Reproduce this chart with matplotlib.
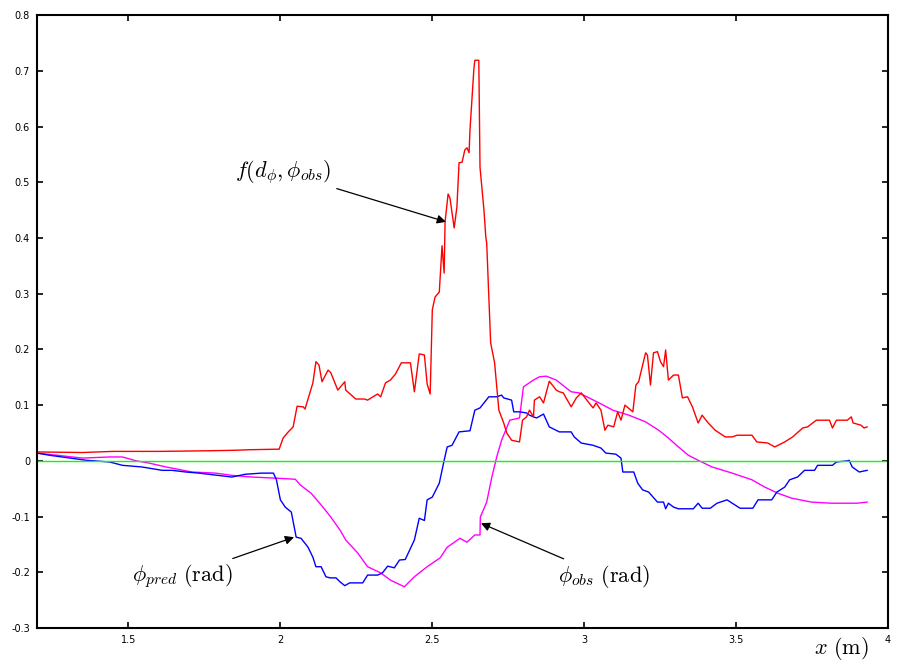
import numpy as np
import matplotlib.pyplot as plt

plt.rcParams['mathtext.fontset'] = 'cm'
plt.rcParams['axes.unicode_minus'] = False

# f(d_phi, phi_obs)
x_f = [1.200, 1.35, 1.45, 1.6, 1.75, 1.85, 1.90, 1.997, 2.010, 2.027, 2.043, 2.056, 2.076, 2.082,
       2.108, 2.118, 2.128, 2.138, 2.158, 2.167, 2.190, 2.213, 2.216, 2.249, 2.278, 2.288, 2.321,
       2.331, 2.347, 2.363, 2.380, 2.399, 2.429, 2.442, 2.458, 2.475, 2.484, 2.494, 2.501, 2.510,
       2.524, 2.533, 2.540, 2.543, 2.553, 2.559, 2.573, 2.582, 2.589, 2.599, 2.608, 2.615, 2.622,
       2.625, 2.638, 2.641, 2.654, 2.658, 2.671, 2.677, 2.680, 2.687, 2.693, 2.706, 2.720, 2.736,
       2.746, 2.762, 2.788, 2.798, 2.811, 2.821, 2.834, 2.837, 2.854, 2.867, 2.886, 2.909, 2.919,
       2.932, 2.958, 2.975, 2.991, 3.007, 3.030, 3.040, 3.056, 3.069, 3.079, 3.098, 3.111, 3.122,
       3.135, 3.161, 3.171, 3.180, 3.203, 3.209, 3.219, 3.229, 3.242, 3.252, 3.262, 3.269, 3.278,
       3.295, 3.311, 3.324, 3.341, 3.357, 3.376, 3.389, 3.409, 3.432, 3.465, 3.488, 3.504, 3.530,
       3.553, 3.569, 3.605, 3.628, 3.661, 3.687, 3.720, 3.736, 3.765, 3.808, 3.818, 3.831, 3.867,
       3.880, 3.886, 3.912, 3.922, 3.932]
y_f = [0.016, 0.015, 0.017, 0.017, 0.018, 0.019, 0.020, 0.021, 0.041, 0.052, 0.061, 0.098, 0.097, 0.093,
       0.140, 0.178, 0.172, 0.142, 0.163, 0.158, 0.127, 0.142, 0.127, 0.111, 0.111, 0.109, 0.120,
       0.115, 0.140, 0.145, 0.156, 0.176, 0.176, 0.124, 0.192, 0.190, 0.138, 0.120, 0.271, 0.294,
       0.303, 0.386, 0.337, 0.429, 0.479, 0.472, 0.418, 0.456, 0.535, 0.536, 0.558, 0.562, 0.553,
       0.594, 0.705, 0.719, 0.719, 0.527, 0.450, 0.402, 0.391, 0.294, 0.212, 0.176, 0.091, 0.068,
       0.050, 0.037, 0.034, 0.073, 0.079, 0.091, 0.079, 0.109, 0.115, 0.104, 0.143, 0.127, 0.124,
       0.122, 0.097, 0.113, 0.122, 0.111, 0.095, 0.104, 0.091, 0.055, 0.064, 0.061, 0.088, 0.073,
       0.100, 0.088, 0.136, 0.142, 0.194, 0.190, 0.136, 0.194, 0.196, 0.178, 0.169, 0.199, 0.145,
       0.154, 0.154, 0.113, 0.115, 0.097, 0.068, 0.082, 0.068, 0.055, 0.043, 0.043, 0.046, 0.046,
       0.046, 0.034, 0.032, 0.025, 0.034, 0.043, 0.059, 0.061, 0.073, 0.073, 0.059, 0.073, 0.073,
       0.079, 0.068, 0.064, 0.059, 0.061]

# phi_pred
x_pred = [1.200, 1.242, 1.363, 1.439, 1.481, 1.546, 1.612, 1.644, 1.690, 1.733, 1.841, 1.886, 1.939,
          1.978, 1.988, 2.001, 2.017, 2.037, 2.053, 2.069, 2.092, 2.108, 2.118, 2.135, 2.151, 2.164,
          2.184, 2.197, 2.213, 2.229, 2.272, 2.288, 2.321, 2.337, 2.354, 2.376, 2.393, 2.412, 2.442,
          2.458, 2.475, 2.484, 2.501, 2.524, 2.540, 2.550, 2.566, 2.589, 2.625, 2.641, 2.658, 2.687,
          2.713, 2.729, 2.736, 2.762, 2.769, 2.788, 2.811, 2.821, 2.834, 2.844, 2.867, 2.886, 2.919,
          2.958, 2.968, 2.991, 3.030, 3.056, 3.072, 3.105, 3.122, 3.128, 3.164, 3.177, 3.193, 3.213,
          3.242, 3.262, 3.269, 3.278, 3.295, 3.311, 3.360, 3.376, 3.389, 3.416, 3.438, 3.471, 3.488,
          3.514, 3.556, 3.573, 3.618, 3.635, 3.661, 3.677, 3.703, 3.726, 3.759, 3.769, 3.818, 3.831,
          3.867, 3.873, 3.883, 3.906, 3.932]
y_pred = [0.014, 0.010, 0.001, -0.002, -0.008, -0.011, -0.017, -0.017, -0.020, -0.022, -0.029, -0.024, -0.022,
          -0.022, -0.034, -0.070, -0.083, -0.092, -0.137, -0.139, -0.155, -0.173, -0.190, -0.190, -0.208, -0.210,
          -0.210, -0.217, -0.224, -0.219, -0.219, -0.205, -0.205, -0.201, -0.189, -0.192, -0.178, -0.177, -0.142,
          -0.103, -0.107, -0.070, -0.065, -0.040, 0.001, 0.025, 0.028, 0.052, 0.054, 0.091, 0.095, 0.115,
          0.115, 0.118, 0.113, 0.109, 0.088, 0.088, 0.086, 0.082, 0.079, 0.077, 0.084, 0.061, 0.052,
          0.052, 0.043, 0.032, 0.028, 0.023, 0.014, 0.012, 0.005, -0.020, -0.020, -0.040, -0.052, -0.056,
          -0.074, -0.074, -0.086, -0.076, -0.083, -0.086, -0.086, -0.076, -0.085, -0.085, -0.076, -0.070, -0.076,
          -0.085, -0.085, -0.070, -0.070, -0.056, -0.047, -0.034, -0.029, -0.017, -0.017, -0.008, -0.008, -0.002,
          0.000, 0.001, -0.011, -0.020, -0.017]

# phi_obs
x_obs = [1.200, 1.350, 1.439, 1.481, 1.527, 1.569, 1.625, 1.710, 1.788, 1.841, 1.906, 1.984, 2.050,
         2.066, 2.102, 2.135, 2.167, 2.197, 2.216, 2.255, 2.288, 2.331, 2.363, 2.409, 2.442, 2.484,
         2.527, 2.550, 2.592, 2.615, 2.641, 2.658, 2.659, 2.680, 2.697, 2.713, 2.729, 2.756, 2.788,
         2.801, 2.834, 2.854, 2.876, 2.909, 2.958, 2.984, 3.017, 3.050, 3.095, 3.148, 3.203, 3.246,
         3.278, 3.311, 3.344, 3.376, 3.422, 3.488, 3.553, 3.595, 3.638, 3.684, 3.749, 3.814, 3.899,
         3.932]
y_obs = [0.014, 0.005, 0.007, 0.007, 0.000, -0.004, -0.011, -0.020, -0.022, -0.026, -0.029, -0.031, -0.033,
         -0.043, -0.058, -0.079, -0.101, -0.124, -0.142, -0.165, -0.190, -0.201, -0.214, -0.226, -0.208, -0.190,
         -0.174, -0.155, -0.139, -0.146, -0.133, -0.133, -0.101, -0.074, -0.029, 0.007, 0.037, 0.073, 0.077,
         0.133, 0.145, 0.151, 0.152, 0.145, 0.124, 0.122, 0.113, 0.104, 0.091, 0.082, 0.070, 0.055,
         0.041, 0.025, 0.010, 0.001, -0.011, -0.022, -0.034, -0.047, -0.058, -0.067, -0.074, -0.076, -0.076,
         -0.074]

x_ticks = [1.5, 2, 2.5, 3, 3.5, 4]
x_ticklabels = ['1.5', '2', '2.5', '3', '3.5', '4']
y_ticks = [-0.3, -0.2, -0.1, 0, 0.1, 0.2, 0.3, 0.4, 0.5, 0.6, 0.7, 0.8]
y_ticklabels = ['-0.3', '-0.2', '-0.1', '0', '0.1', '0.2', '0.3', '0.4', '0.5', '0.6', '0.7', '0.8']

fig = plt.figure(figsize=(9.07, 6.64), dpi=100)
ax = fig.add_axes([0.0408, 0.0542, 0.938, 0.923])

ax.plot(x_obs, y_obs, '-', color='#ff00ff', linewidth=1.0)
ax.plot(x_pred, y_pred, '-', color='#0000ff', linewidth=1.0)
ax.plot(x_f, y_f, '-', color='#ff0000', linewidth=1.0)
ax.plot([1.2, 4.0], [0, 0], '-', color='#00ff00', linewidth=1.0)

ax.set_xlim((1.2, 4.0))
ax.set_ylim((-0.3, 0.8))
ax.set_xticks(x_ticks)
ax.set_xticklabels(x_ticklabels)
ax.set_yticks(y_ticks)
ax.set_yticklabels(y_ticklabels)
ax.tick_params(direction='in', length=4, width=1.2, top=True, right=True,
               labelsize=7, pad=5)
for sp in ax.spines.values():
    sp.set_linewidth(1.5)

arrow = dict(arrowstyle='-|>', color='k', lw=0.9, mutation_scale=13,
             shrinkA=2, shrinkB=0)
ax.annotate(r'$f(d_\phi,\phi_{obs})$', xy=(2.546, 0.429), xytext=(2.010, 0.518),
            fontsize=16, ha='center', va='center', arrowprops=arrow)
ax.annotate(r'$\phi_{pred}\ \mathrm{(rad)}$', xy=(2.046, -0.137), xytext=(1.677, -0.207),
            fontsize=16, ha='center', va='center', arrowprops=arrow)
ax.annotate(r'$\phi_{obs}\ \mathrm{(rad)}$', xy=(2.661, -0.112), xytext=(3.066, -0.207),
            fontsize=16, ha='center', va='center', arrowprops=arrow)
fig.text(0.928, 0.024, r'$x\ \mathrm{(m)}$', fontsize=16, ha='center', va='center')

plt.savefig('out.png', dpi=100)
